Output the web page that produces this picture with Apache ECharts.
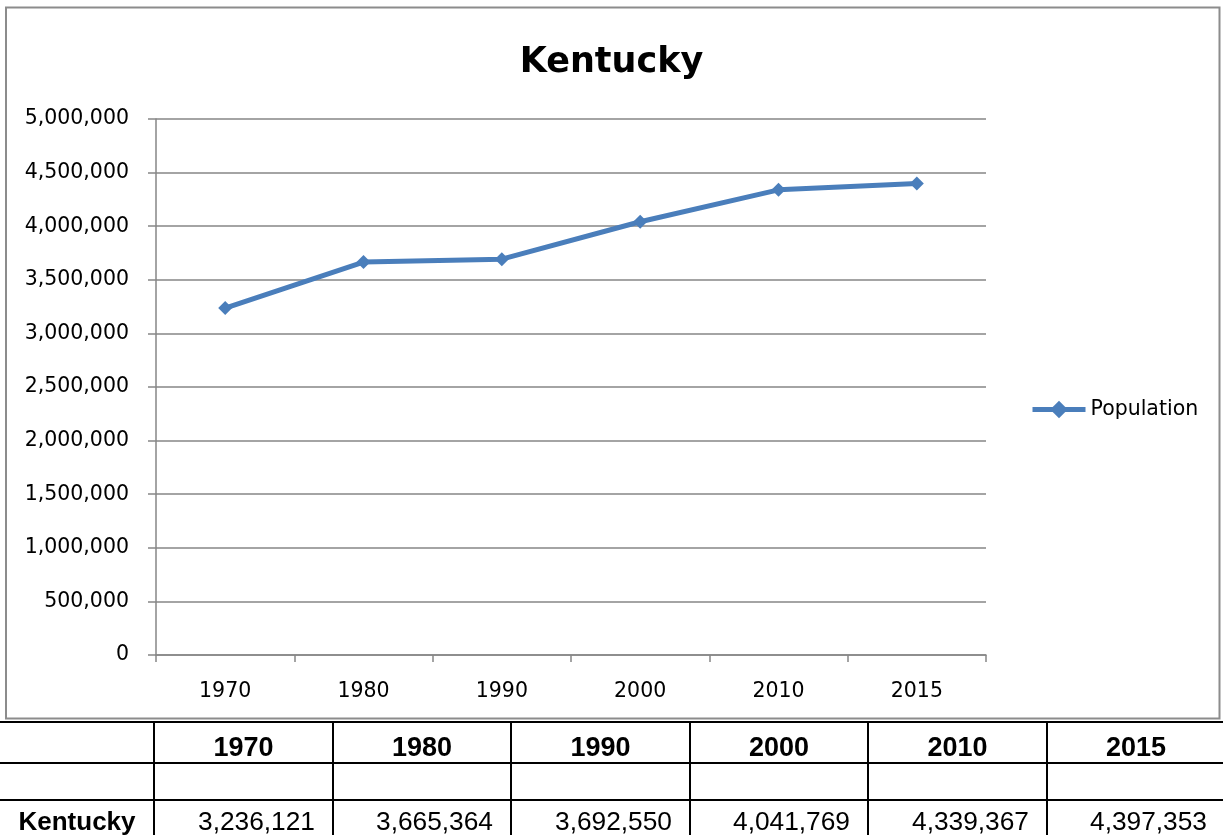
<!DOCTYPE html>
<html>
<head>
<meta charset="utf-8">
<script src="https://cdn.jsdelivr.net/npm/echarts@6/dist/echarts.min.js"></script>
<style>
  html, body { margin: 0; padding: 0; background: #fff; }
  #wrap { position: relative; width: 1223px; height: 835px; overflow: hidden; }
  #chart { position: absolute; left: 0; top: 0; width: 1223px; height: 835px; }
  .cell { position: absolute; font-family: "Liberation Sans", Arial, sans-serif; color: #000;
          display: flex; align-items: center; box-sizing: border-box; white-space: nowrap; }
  .hline { position: absolute; left: 0; width: 1223px; height: 2px; background: #000; }
  .vline { position: absolute; width: 2px; background: #000; }
</style>
</head>
<body>
<div id="wrap">
  <div id="chart"></div>
  <div id="table"></div>
</div>
<script>
const chartTitle = "Kentucky";
const seriesName = "Population";
const rowLabel = "Kentucky";
const years = ["1970", "1980", "1990", "2000", "2010", "2015"];
const population = [3236121, 3665364, 3692550, 4041769, 4339367, 4397353];
const yMin = 0, yMax = 5000000, yStep = 500000;

const fmt = v => String(v).replace(/\B(?=(\d{3})+(?!\d))/g, ",");
const axisColor = "#868686";
const font = "DejaVu Sans";

const chart = echarts.init(document.getElementById("chart"), null, { renderer: "canvas" });
chart.setOption({
  animation: false,
  backgroundColor: "#fff",
  title: {
    text: chartTitle, left: "center", top: 40,
    textStyle: { fontFamily: font, fontWeight: "bold", fontSize: 35, color: "#000" }
  },
  legend: {
    left: 1030, top: 399, padding: 0,
    itemWidth: 53, itemHeight: 22, itemGap: 5,
    lineStyle: { width: 5 },
    textStyle: { fontFamily: font, fontSize: 20.5, color: "#000" },
    data: [seriesName]
  },
  grid: { left: 156, right: 237, top: 119, bottom: 180, containLabel: false },
  xAxis: {
    type: "category", data: years, boundaryGap: true,
    axisLine: { lineStyle: { color: axisColor, width: 1.5 } },
    axisTick: { show: true, length: 7, alignWithLabel: false, lineStyle: { color: axisColor, width: 1.5 } },
    axisLabel: { fontFamily: font, fontSize: 20.5, color: "#000", margin: 26 },
    splitLine: { show: false }
  },
  yAxis: {
    type: "value", min: yMin, max: yMax, interval: yStep,
    axisLine: { show: true, lineStyle: { color: axisColor, width: 1.5 } },
    axisTick: { show: true, length: 8, lineStyle: { color: axisColor, width: 1.5 } },
    axisLabel: { fontFamily: font, fontSize: 20.5, color: "#000", margin: 27, formatter: v => fmt(v) },
    splitLine: { show: true, lineStyle: { color: axisColor, width: 1.5 } }
  },
  series: [{
    name: seriesName, type: "line", data: population,
    symbol: "diamond", symbolSize: 14,
    lineStyle: { color: "#4a7ebb", width: 5 },
    itemStyle: { color: "#4a7ebb" }
  }],
  graphic: [{
    type: "rect", silent: true, z: -1,
    shape: { x: 6, y: 7.5, width: 1213.5, height: 711 },
    style: { fill: null, stroke: "#8c8c8c", lineWidth: 2 }
  }]
});

// Data table below the chart
const table = document.getElementById("table");
const colX = [0, 154, 333, 511, 690, 868, 1047, 1225];
const rowY = [721, 762, 799, 840];
function add(html) { table.insertAdjacentHTML("beforeend", html); }
rowY.slice(0, 3).forEach(y => add(`<div class="hline" style="top:${y}px"></div>`));
colX.slice(1, 7).forEach(x => add(`<div class="vline" style="left:${x - 1}px;top:${rowY[0]}px;height:${835 - rowY[0]}px"></div>`));
function cell(c, r, text, style) {
  const x0 = colX[c] + 1, x1 = colX[c + 1] - 1, y0 = rowY[r] + 2, y1 = rowY[r + 1];
  add(`<div class="cell" style="left:${x0}px;top:${y0}px;width:${x1 - x0}px;height:${y1 - y0}px;${style}">${text}</div>`);
}
years.forEach((yr, i) => cell(i + 1, 0, yr, "font-weight:bold;font-size:27px;justify-content:center;padding-top:9px;"));
cell(0, 2, rowLabel, "font-weight:bold;font-size:26px;justify-content:center;padding-top:2px;");
population.forEach((v, i) => cell(i + 1, 2, fmt(v), "font-size:26.3px;justify-content:flex-end;padding-right:17px;padding-top:2px;"));
</script>
</body>
</html>
